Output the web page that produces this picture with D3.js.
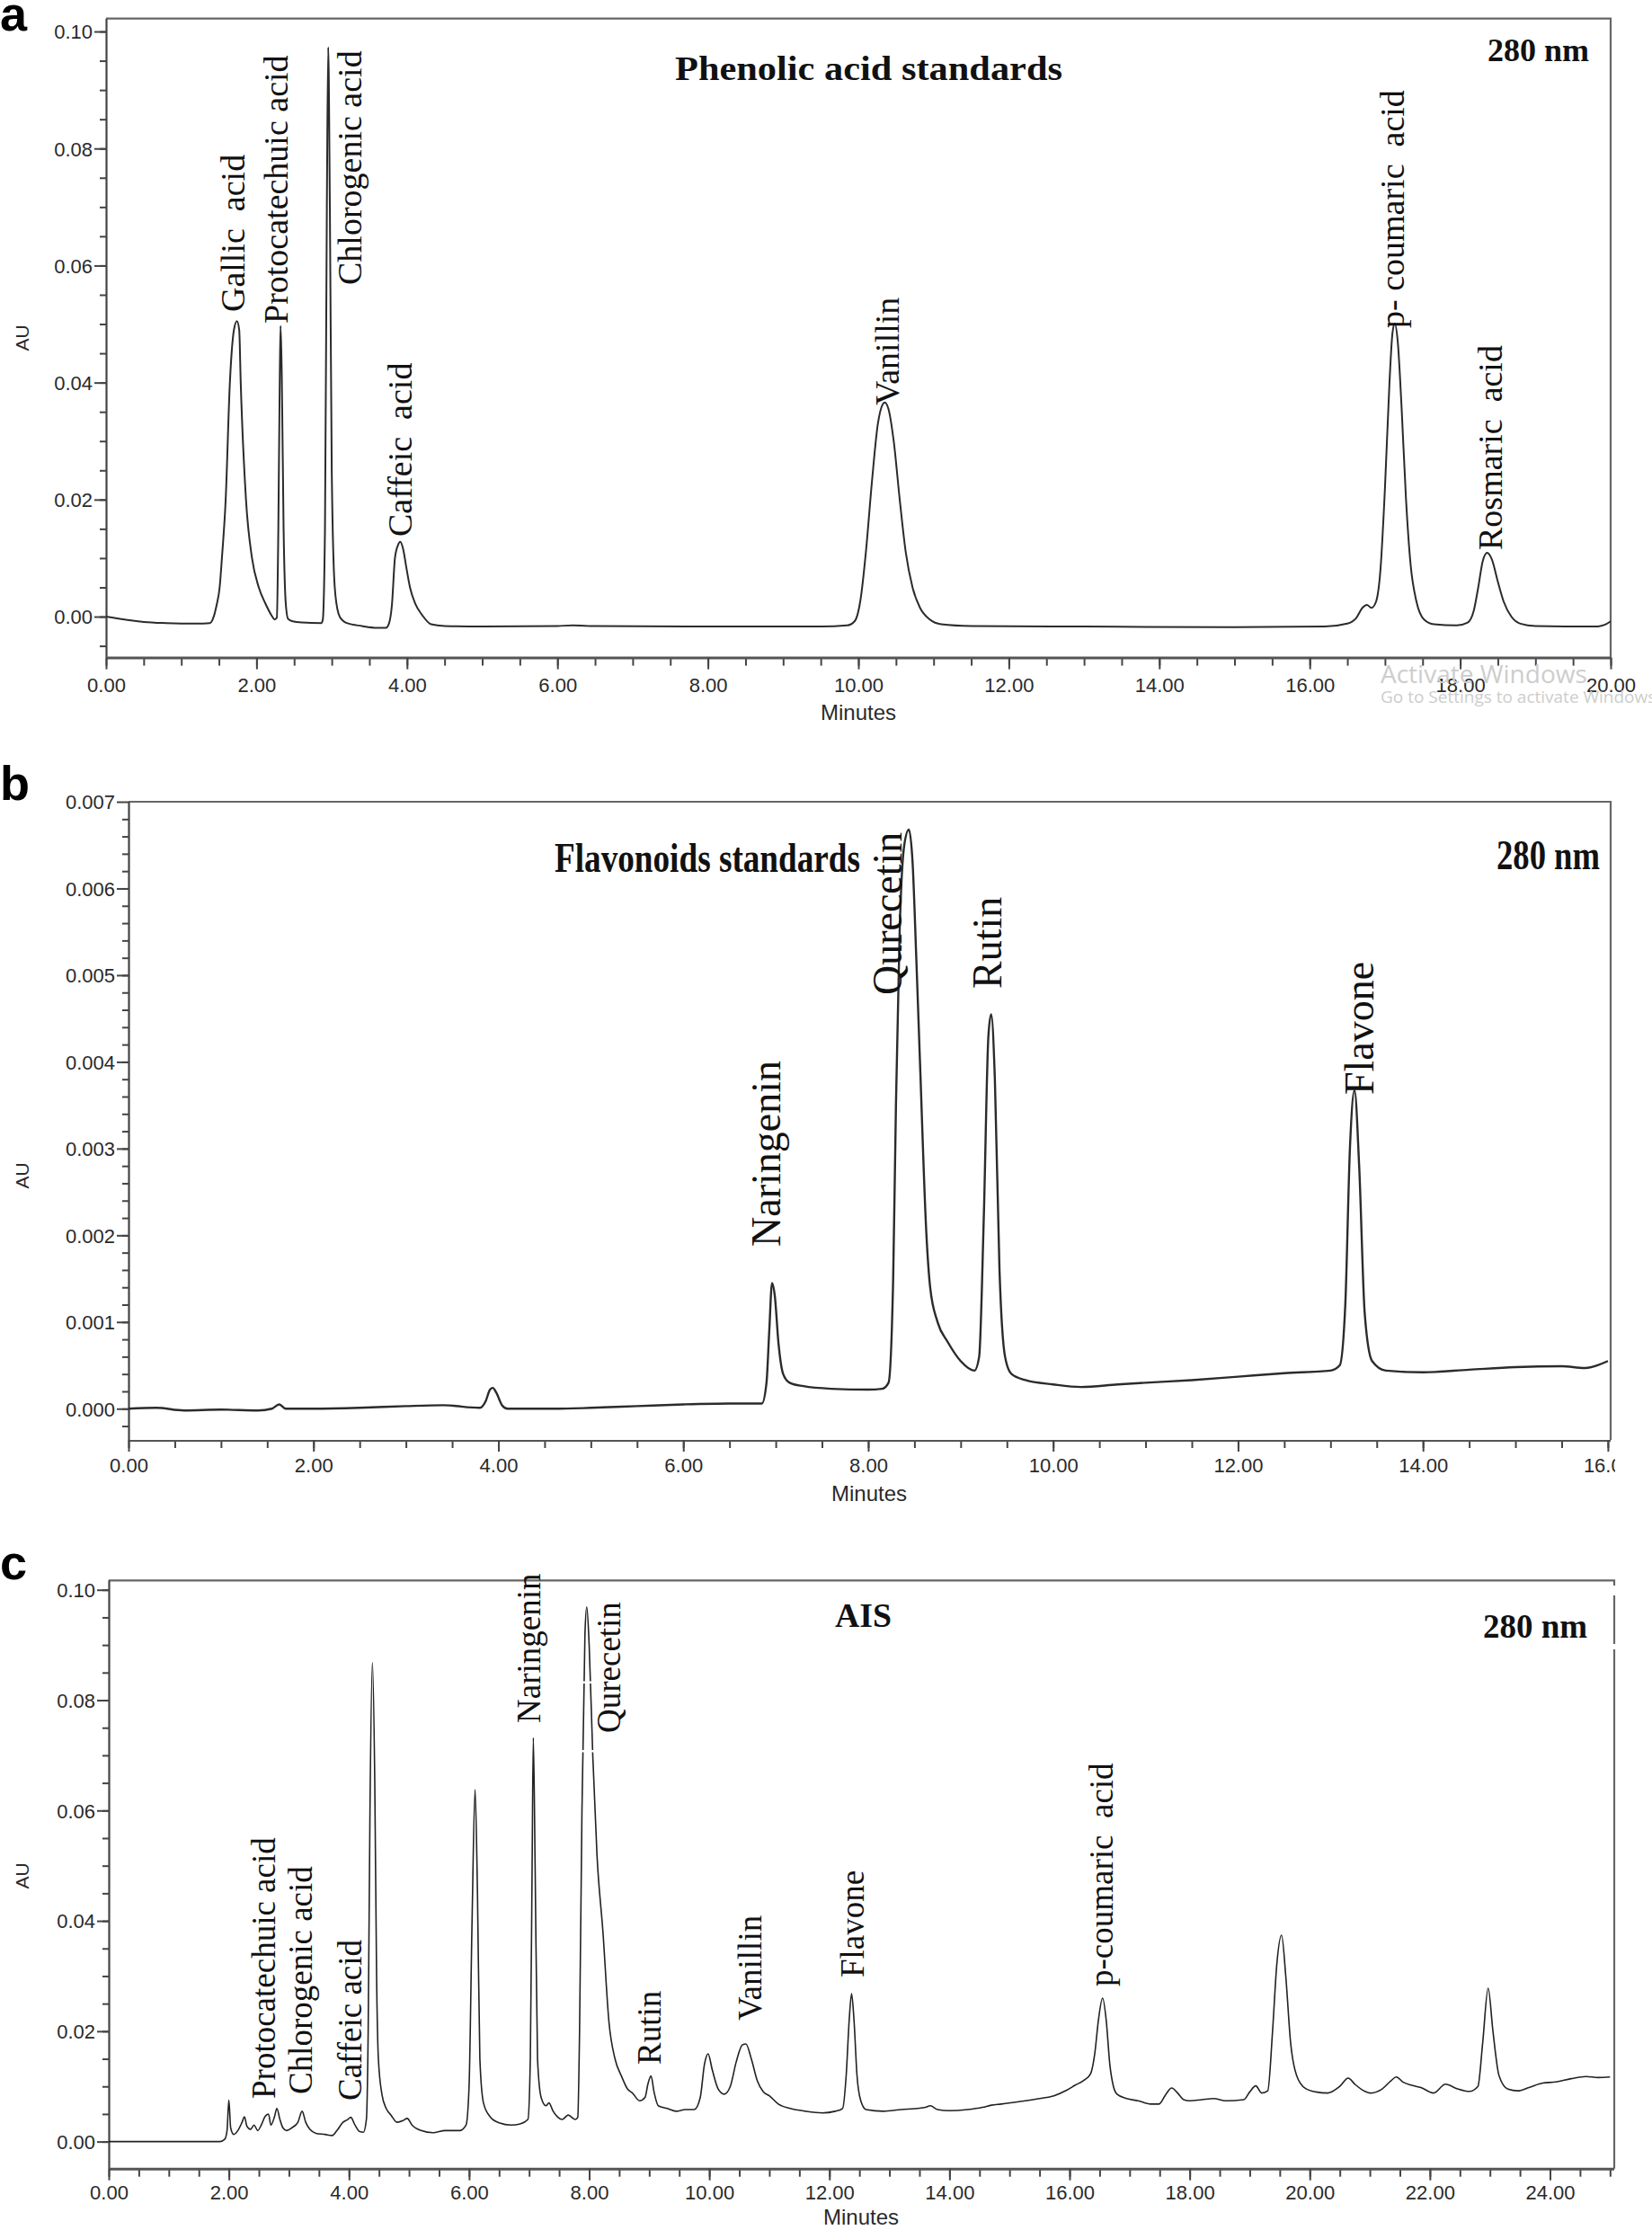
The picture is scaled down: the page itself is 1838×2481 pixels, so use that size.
<!DOCTYPE html>
<html><head><meta charset="utf-8">
<script src="https://cdn.jsdelivr.net/npm/d3@7"></script>
<style>body{margin:0;background:#fff} svg{display:block}</style>
</head><body>
<svg id="fig" width="1838" height="2481"></svg>
<script>
// ---------- DATA ----------
// Panel a: phenolic acid standards
const aTime = [0.00,0.25,0.50,0.80,1.20,1.38,1.42,1.47,1.51,1.54,1.59,1.646,1.70,1.74,1.77,1.79,1.86,1.94,2.03,2.12,2.20,2.24,2.27,2.29,2.31,2.32,2.335,2.36,2.39,2.42,2.48,2.60,2.86,2.88,2.91,2.935,2.953,2.975,3.00,3.04,3.09,3.14,3.20,3.40,3.60,3.72,3.76,3.80,3.84,3.88,3.91,3.95,3.99,4.04,4.11,4.20,4.32,4.50,5.00,6.00,6.20,6.50,8.00,9.50,9.85,9.95,10.03,10.10,10.18,10.26,10.32,10.35,10.40,10.47,10.55,10.63,10.72,10.82,10.95,11.10,11.50,13.00,15.00,16.20,16.50,16.62,16.70,16.76,16.82,16.88,16.94,17.00,17.06,17.10,17.13,17.17,17.22,17.28,17.34,17.42,17.52,17.65,17.95,18.10,18.18,18.24,18.30,18.36,18.42,18.50,18.58,18.68,18.80,19.00,19.80,19.92,20.00];
const aAU = [0.0000,-0.0005,-0.0009,-0.0011,-0.0012,-0.0011,-0.0004,0.0020,0.0050,0.0100,0.0200,0.0400,0.0490,0.0505,0.0490,0.0400,0.0200,0.0100,0.0050,0.0022,0.0002,-0.0005,-0.0002,0.0150,0.0420,0.0497,0.0420,0.0150,0.0020,-0.0004,-0.0008,-0.0010,-0.0011,-0.0006,0.0150,0.0700,0.0973,0.0700,0.0250,0.0050,0.0005,-0.0006,-0.0011,-0.0016,-0.0019,-0.0019,-0.0012,0.0020,0.0100,0.0122,0.0128,0.0115,0.0085,0.0050,0.0022,0.0003,-0.0013,-0.0016,-0.0017,-0.0016,-0.0015,-0.0016,-0.0017,-0.0017,-0.0015,-0.0008,0.0030,0.0110,0.0230,0.0330,0.0362,0.0366,0.0355,0.0300,0.0200,0.0110,0.0050,0.0015,-0.0005,-0.0013,-0.0016,-0.0017,-0.0018,-0.0017,-0.0012,-0.0002,0.0015,0.0020,0.0015,0.0025,0.0080,0.0220,0.0400,0.0485,0.0501,0.0470,0.0360,0.0200,0.0090,0.0025,-0.0005,-0.0013,-0.0015,-0.0010,0.0010,0.0050,0.0095,0.0109,0.0098,0.0060,0.0025,0.0000,-0.0012,-0.0016,-0.0017,-0.0014,-0.0008];
// Panel b: flavonoid standards
const bTime = [0.00,0.30,0.60,1.00,1.40,1.55,1.63,1.70,2.00,2.50,3.00,3.40,3.80,3.86,3.91,3.94,3.98,4.04,4.10,4.60,5.00,5.50,6.00,6.50,6.85,6.90,6.93,6.96,6.99,7.03,7.08,7.15,7.30,7.60,8.00,8.15,8.22,8.27,8.30,8.34,8.39,8.44,8.48,8.52,8.56,8.63,8.67,8.75,8.86,9.00,9.15,9.20,9.25,9.30,9.33,9.37,9.42,9.48,9.55,9.70,10.00,10.30,10.70,11.00,11.50,12.00,12.50,13.00,13.10,13.16,13.21,13.26,13.31,13.37,13.45,13.60,14.00,14.50,15.00,15.50,15.75,16.00];
const bAU = [0.00000,0.00001,-0.00002,-0.00001,-0.00002,0.00000,0.00005,0.00000,0.00000,0.00001,0.00003,0.00004,0.00001,0.00008,0.00022,0.00024,0.00018,0.00004,0.00000,0.00000,0.00001,0.00003,0.00005,0.00006,0.00006,0.00030,0.00090,0.00145,0.00130,0.00075,0.00040,0.00030,0.00026,0.00023,0.00022,0.00023,0.00030,0.00150,0.00350,0.00550,0.00650,0.00668,0.00630,0.00520,0.00400,0.00200,0.00140,0.00100,0.00077,0.00055,0.00044,0.00060,0.00220,0.00430,0.00455,0.00380,0.00160,0.00060,0.00040,0.00033,0.00028,0.00025,0.00028,0.00030,0.00033,0.00037,0.00041,0.00044,0.00050,0.00120,0.00300,0.00367,0.00280,0.00110,0.00055,0.00044,0.00042,0.00045,0.00048,0.00049,0.00047,0.00055];
// Panel c: AIS extract
const cTime = [0.00,1.50,1.85,1.93,1.97,2.00,2.03,2.08,2.15,2.22,2.26,2.30,2.36,2.42,2.48,2.54,2.60,2.66,2.70,2.76,2.80,2.85,2.90,2.96,3.05,3.15,3.22,3.28,3.35,3.45,3.60,3.72,3.80,3.90,3.98,4.03,4.10,4.18,4.24,4.29,4.32,4.35,4.39,4.43,4.46,4.49,4.55,4.62,4.70,4.80,4.90,4.97,5.05,5.20,5.40,5.60,5.85,5.95,6.00,6.05,6.10,6.14,6.18,6.24,6.35,6.50,6.70,6.85,6.98,7.02,7.05,7.07,7.10,7.14,7.20,7.28,7.33,7.40,7.48,7.55,7.65,7.77,7.81,7.84,7.88,7.93,7.96,8.00,8.06,8.13,8.23,8.33,8.43,8.54,8.64,8.72,8.84,8.93,8.98,9.03,9.08,9.15,9.30,9.45,9.60,9.75,9.85,9.92,9.98,10.05,10.15,10.25,10.35,10.45,10.55,10.61,10.70,10.80,10.90,11.00,11.15,11.35,11.60,11.88,12.10,12.22,12.28,12.33,12.37,12.41,12.46,12.52,12.61,12.90,13.20,13.46,13.60,13.68,13.80,14.00,14.30,14.55,14.70,14.86,15.20,15.50,15.74,15.95,16.09,16.25,16.35,16.42,16.48,16.55,16.61,16.67,16.73,16.79,16.95,17.14,17.35,17.49,17.60,17.70,17.80,17.90,18.00,18.20,18.40,18.60,18.90,19.00,19.10,19.20,19.30,19.38,19.45,19.53,19.60,19.68,19.78,19.93,20.10,20.30,20.50,20.64,20.75,20.90,21.00,21.20,21.35,21.44,21.55,21.70,21.85,22.06,22.26,22.45,22.66,22.80,22.88,22.97,23.05,23.15,23.30,23.46,23.65,23.88,24.10,24.35,24.60,24.80,25.00];
const cAU = [0.0000,0.0000,0.0000,0.0004,0.0020,0.0075,0.0025,0.0013,0.0020,0.0035,0.0045,0.0028,0.0022,0.0030,0.0020,0.0030,0.0045,0.0050,0.0030,0.0045,0.0060,0.0040,0.0025,0.0020,0.0025,0.0035,0.0055,0.0035,0.0022,0.0015,0.0013,0.0011,0.0020,0.0035,0.0040,0.0044,0.0030,0.0018,0.0017,0.0040,0.0200,0.0600,0.0868,0.0650,0.0300,0.0150,0.0085,0.0060,0.0048,0.0035,0.0038,0.0042,0.0030,0.0020,0.0016,0.0020,0.0020,0.0030,0.0100,0.0400,0.0638,0.0450,0.0150,0.0070,0.0045,0.0034,0.0030,0.0032,0.0040,0.0150,0.0500,0.0732,0.0500,0.0150,0.0080,0.0065,0.0070,0.0055,0.0044,0.0040,0.0048,0.0040,0.0044,0.0200,0.0600,0.0920,0.0969,0.0900,0.0700,0.0520,0.0379,0.0216,0.0150,0.0118,0.0095,0.0088,0.0074,0.0080,0.0105,0.0119,0.0090,0.0065,0.0060,0.0055,0.0058,0.0058,0.0080,0.0140,0.0159,0.0130,0.0095,0.0086,0.0100,0.0145,0.0175,0.0177,0.0150,0.0110,0.0090,0.0083,0.0068,0.0060,0.0055,0.0052,0.0055,0.0060,0.0120,0.0220,0.0268,0.0220,0.0120,0.0075,0.0058,0.0055,0.0058,0.0060,0.0062,0.0065,0.0058,0.0056,0.0058,0.0062,0.0066,0.0068,0.0073,0.0078,0.0083,0.0093,0.0102,0.0112,0.0123,0.0160,0.0220,0.0260,0.0220,0.0140,0.0100,0.0086,0.0078,0.0074,0.0068,0.0068,0.0085,0.0097,0.0088,0.0076,0.0074,0.0076,0.0078,0.0074,0.0076,0.0090,0.0101,0.0088,0.0092,0.0200,0.0320,0.0374,0.0300,0.0180,0.0120,0.0096,0.0090,0.0088,0.0100,0.0115,0.0104,0.0092,0.0088,0.0095,0.0110,0.0117,0.0108,0.0102,0.0098,0.0088,0.0104,0.0096,0.0091,0.0100,0.0180,0.0278,0.0200,0.0120,0.0095,0.0092,0.0098,0.0106,0.0108,0.0114,0.0118,0.0116,0.0117];

// peak labels
const aPeakNames = ["Gallic  acid","Protocatechuic acid","Chlorogenic acid","Caffeic  acid","Vanillin","p- coumaric  acid","Rosmaric  acid"];
const bPeakNames = ["Naringenin","Qurecetin","Rutin","Flavone"];
const cPeakNames = ["Protocatechuic acid","Chlorogenic acid","Caffeic acid","Naringenin","Qurecetin","Rutin","Vanillin","Flavone","p-coumaric  acid"];

// tick values
const aXTicks = d3.range(0, 20.01, 2);
const bXTicks = d3.range(0, 16.01, 2);
const cXTicks = d3.range(0, 24.01, 2);
const aYTicks = [0.00,0.02,0.04,0.06,0.08,0.10];
const bYTicks = [0.000,0.001,0.002,0.003,0.004,0.005,0.006,0.007];
const cYTicks = [0.00,0.02,0.04,0.06,0.08,0.10];

// ---------- DRAWING ----------
const svg = d3.select("#fig");
svg.append("rect").attr("width",1838).attr("height",2481).attr("fill","#fff");

const defs = svg.append("defs");
defs.append("clipPath").attr("id","clipB").append("rect").attr("x",0).attr("y",0).attr("width",1797).attr("height",2481);

const SANS = "Liberation Sans, Arial, sans-serif";
const SERIF = "Liberation Serif, Times New Roman, serif";

function panel(cfg){
  const g = svg.append("g");
  const x = d3.scaleLinear().domain(cfg.xDomain).range(cfg.xRange);
  const y = d3.scaleLinear().domain(cfg.yDomain).range(cfg.yRange);
  const [x0,x1] = cfg.xRange, [y0,y1] = cfg.yRange;

  // frame (top and right)
  g.append("path").attr("d",`M${x0},${y1}H${x1}V${y0}`).attr("fill","none")
    .attr("stroke","#666").attr("stroke-width",2.2);

  // y axis
  const yMinor = d3.range(Math.ceil(cfg.yDomain[0]/cfg.yMinorStep)*cfg.yMinorStep, cfg.yDomain[1], cfg.yMinorStep);
  g.append("g").attr("transform",`translate(${x0},0)`)
    .call(d3.axisLeft(y).tickValues(yMinor).tickSize(7).tickFormat(""))
    .call(s => s.select(".domain").remove())
    .selectAll("line").attr("stroke","#444").attr("stroke-width",2);
  const ya = g.append("g").attr("transform",`translate(${x0},0)`)
    .call(d3.axisLeft(y).tickValues(cfg.yTicks).tickSize(13).tickFormat(d3.format(cfg.yFmt)));
  ya.select(".domain").attr("stroke","#444").attr("stroke-width",2.2).attr("d",`M0.5,${y0}V${y1}`);
  ya.selectAll("line").attr("stroke","#444").attr("stroke-width",2);
  ya.selectAll("text").attr("x",-15).attr("dy","0.36em")
    .attr("font-family",SANS).attr("font-size",cfg.tickFont).attr("fill","#2a2a2a");

  // x axis
  const xMinor = d3.range(0, cfg.xDomain[1]+1e-9, 0.5);
  const xg = g.append("g").attr("transform",`translate(0,${y0})`);
  if (cfg.clip) xg.attr("clip-path","url(#"+cfg.clip+")");
  xg.append("g").call(d3.axisBottom(x).tickValues(xMinor).tickSize(9).tickFormat(""))
    .call(s => s.select(".domain").remove())
    .selectAll("line").attr("stroke","#444").attr("stroke-width",2);
  const xa = xg.append("g").call(d3.axisBottom(x).tickValues(cfg.xTicks).tickSize(13).tickFormat(d3.format(".2f")));
  xa.select(".domain").attr("stroke","#555").attr("stroke-width",3).attr("d",`M${x0},0.5H${x1}`);
  xa.selectAll("line").attr("stroke","#444").attr("stroke-width",2);
  xa.selectAll("text").attr("y",cfg.xLabelOff).attr("dy",0)
    .attr("font-family",SANS).attr("font-size",cfg.tickFont).attr("fill","#2a2a2a");

  // axis titles
  g.append("text").attr("transform",`translate(${cfg.auPos[0]},${cfg.auPos[1]}) rotate(-90)`)
    .attr("text-anchor","middle").attr("font-family",SANS)
    .attr("font-size",21).attr("fill","#2a2a2a").text("AU");
  g.append("text").attr("x",cfg.minPos[0]).attr("y",cfg.minPos[1])
    .attr("text-anchor","middle").attr("font-family",SANS)
    .attr("font-size",24).attr("fill","#2a2a2a").text("Minutes");

  // trace
  const pts = cfg.time.map((t,i)=>[t,cfg.au[i]]);
  g.append("path").datum(pts).attr("fill","none").attr("stroke",cfg.lineColor)
    .attr("stroke-width",cfg.lineWidth).attr("stroke-linejoin","round")
    .attr("d", d3.line().x(d=>x(d[0])).y(d=>y(d[1])).curve(d3.curveMonotoneX));

  // white gaps crossing the trace (artefacts of label boxes in the reference)
  (cfg.gaps||[]).forEach(gp=>{
    g.append("rect").attr("x",gp[0]).attr("y",gp[1]).attr("width",gp[2]).attr("height",gp[3]).attr("fill","#fff");
  });

  // peak labels
  cfg.names.forEach((n,i)=>{
    const p = cfg.labelPos[i];
    g.append("text").attr("transform",`translate(${p[0]},${p[1]}) rotate(-90)`)
      .attr("font-family",SERIF).attr("font-size",cfg.labelFont)
      .attr("fill","#111").style("white-space","pre").text(n);
  });

  // titles
  cfg.titles.forEach(tt=>{
    const t = g.append("text").attr("x",tt.x).attr("y",tt.y).attr("text-anchor",tt.anchor||"start")
      .attr("font-family",SERIF).attr("font-weight","bold")
      .attr("font-size",tt.size).attr("fill","#111").text(tt.text);
    if (tt.len) t.attr("textLength",tt.len).attr("lengthAdjust","spacingAndGlyphs");
  });

  // panel letter
  svg.append("text").attr("x",cfg.letter[1]).attr("y",cfg.letter[2])
    .attr("font-family",SANS).attr("font-weight","bold")
    .attr("font-size",54).attr("fill","#000").text(cfg.letter[0]);
  return {x,y,g};
}

panel({
  time:aTime, au:aAU, xDomain:[0,20], xRange:[118,1792], yDomain:[-0.007,0.1022], yRange:[731.6,20.7],
  yTicks:aYTicks, yMinorStep:0.005, yFmt:".2f", xTicks:aXTicks, xLabelOff:38, tickFont:22,
  auPos:[32,376], minPos:[955,801], lineColor:"#2b2b2b", lineWidth:2,
  names:aPeakNames, labelFont:38,
  labelPos:[[272,347],[320,360],[402,317],[458,597],[1000,451],[1562,365],[1671,612]],
  titles:[{text:"Phenolic acid standards", x:751, y:89, size:38, len:431},
          {text:"280 nm", x:1768, y:68, size:36, anchor:"end"}],
  letter:["a",0,34]
});

panel({
  time:bTime, au:bAU, xDomain:[0,16.03], xRange:[143,1792], yDomain:[-0.00036,0.007], yRange:[1602,892],
  yTicks:bYTicks, yMinorStep:0.0002, yFmt:".3f", xTicks:bXTicks, xLabelOff:36, tickFont:22, clip:"clipB",
  auPos:[32,1308], minPos:[967,1670], lineColor:"#2b2b2b", lineWidth:2.4,
  names:bPeakNames, labelFont:46,
  labelPos:[[868,1387],[1003,1107],[1114,1100],[1528,1218]],
  titles:[{text:"Flavonoids standards", x:617, y:970, size:46, len:340},
          {text:"280 nm", x:1780, y:967, size:46, anchor:"end", len:115}],
  letter:["b",0,890]
});

panel({
  time:cTime, au:cAU, xDomain:[0,25.07], xRange:[121,1796], yDomain:[-0.0049,0.1017], yRange:[2412.7,1758.3],
  yTicks:cYTicks, yMinorStep:0.005, yFmt:".2f", xTicks:cXTicks, xLabelOff:34, tickFont:22,
  auPos:[32,2087], minPos:[958,2475], lineColor:"#222", lineWidth:1.6,
  names:cPeakNames, labelFont:37,
  labelPos:[[306,2335],[347,2330],[402,2337],[601,1917],[690,1928],[735,2297],[847,2248],[961,2200],[1238,2210]],
  titles:[{text:"AIS", x:929, y:1810, size:38, len:63},
          {text:"280 nm", x:1766, y:1822, size:38, anchor:"end", len:116}],
  gaps:[[641,1870.5,22,2.5],[641,1947,22,2.5],[1793,1764,6,11],[1793,1829,6,6]],
  letter:["c",0,1757]
});

// Windows watermark seen in the reference
svg.append("text").attr("x",1536).attr("y",760).attr("font-family","Open Sans, sans-serif")
  .attr("font-size",28).attr("fill","#cdcdcd").text("Activate Windows");
svg.append("text").attr("x",1536).attr("y",782).attr("font-family","Open Sans, sans-serif")
  .attr("font-size",19).attr("fill","#cdcdcd").text("Go to Settings to activate Windows.");
</script>
</body></html>
